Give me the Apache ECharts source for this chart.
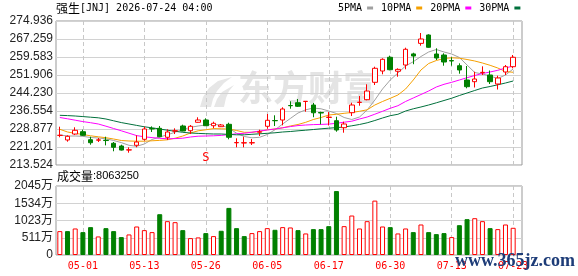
<!DOCTYPE html>
<html>
<head>
<meta charset="utf-8">
<script src="https://cdn.jsdelivr.net/npm/echarts@6/dist/echarts.min.js"></script>
<style>
html, body { margin: 0; padding: 0; background: #fff; }
#box { width: 578px; height: 276px; }
</style>
</head>
<body>
<div id="box"></div>
<script>
const dates = [
  '04-28', '04-29', '04-30', '05-01', '05-04', '05-05', '05-06', '05-07', '05-08', '05-11',
  '05-12', '05-13', '05-14', '05-15', '05-18', '05-19', '05-20', '05-21', '05-22', '05-26',
  '05-27', '05-28', '05-29', '06-01', '06-02', '06-03', '06-04', '06-05', '06-08', '06-09',
  '06-10', '06-11', '06-12', '06-15', '06-16', '06-17', '06-18', '06-22', '06-23', '06-24',
  '06-25', '06-26', '06-29', '06-30', '07-01', '07-02', '07-06', '07-07', '07-08', '07-09',
  '07-10', '07-13', '07-14', '07-15', '07-16', '07-17', '07-20', '07-21', '07-22', '07-23'
];

// [open, close, low, high]
const kData = [
  [226.15, 226.19, 225.34, 229.86], [224.19, 225.76, 223.46, 226.19], [226.73, 228.32, 226.32, 229.60],
  [227.72, 226.19, 225.89, 228.58], [224.31, 223.03, 222.18, 225.59], [224.10, 224.25, 223.33, 225.04],
  [224.10, 223.95, 221.90, 225.59], [222.78, 221.07, 219.37, 223.33], [221.63, 219.90, 219.70, 222.18],
  [219.92, 220.00, 218.77, 221.07], [221.93, 223.33, 221.07, 226.19], [224.48, 228.88, 223.89, 229.86],
  [229.10, 228.90, 227.60, 230.00], [229.17, 225.59, 225.34, 230.16], [225.34, 227.60, 224.19, 228.75],
  [228.00, 228.15, 226.73, 229.17], [230.16, 228.02, 227.90, 230.71], [228.15, 230.03, 226.74, 230.58],
  [231.73, 232.71, 231.56, 233.87], [232.71, 230.28, 230.16, 233.44], [230.28, 231.31, 229.17, 231.99],
  [229.86, 230.58, 229.73, 231.01], [230.88, 225.34, 224.48, 231.56], [223.00, 223.10, 221.07, 224.91],
  [222.90, 223.03, 221.07, 225.59], [222.95, 223.05, 222.05, 224.61], [227.50, 227.70, 225.89, 228.58],
  [230.03, 232.59, 229.00, 235.27], [232.50, 232.40, 230.16, 234.72], [232.71, 237.40, 230.45, 238.13],
  [238.90, 238.80, 237.53, 240.69], [240.09, 238.56, 238.26, 241.67], [240.60, 240.70, 236.25, 240.75],
  [239.10, 235.80, 233.90, 240.00], [235.90, 235.70, 230.88, 236.25], [233.80, 233.95, 230.40, 236.10],
  [232.42, 228.45, 227.72, 234.12], [229.43, 231.01, 227.30, 231.99], [235.83, 239.11, 234.42, 240.09],
  [240.20, 240.30, 238.81, 242.95], [241.37, 245.08, 241.12, 247.94], [248.79, 254.76, 247.64, 255.45],
  [253.61, 258.60, 252.20, 259.03], [259.46, 254.17, 253.91, 260.14], [253.50, 254.30, 251.17, 254.76],
  [256.17, 262.87, 254.34, 263.55], [260.90, 260.00, 256.50, 261.40], [265.40, 267.26, 264.40, 269.82],
  [268.97, 263.72, 263.55, 269.26], [260.86, 259.16, 258.30, 263.29], [260.43, 257.45, 255.87, 261.16],
  [258.05, 257.90, 255.87, 259.46], [255.87, 254.04, 252.46, 256.89], [249.77, 246.92, 246.23, 255.75],
  [249.05, 250.20, 246.58, 253.31], [252.90, 253.05, 251.90, 255.60], [251.91, 249.05, 248.07, 253.83],
  [248.07, 250.63, 245.72, 251.61], [253.19, 255.45, 251.90, 256.17], [255.45, 259.46, 254.76, 260.43]
];

const ma5 = [
  226.32, 225.89, 225.89, 225.76, 225.25, 225.04, 224.70, 223.97, 223.08, 221.93,
  221.50, 222.48, 224.40, 225.47, 226.40, 227.51, 228.66, 229.60, 230.16, 230.58,
  230.92, 230.46, 229.22, 227.09, 225.68, 225.12, 225.34, 226.53, 228.54, 231.01,
  233.36, 235.70, 237.07, 237.83, 237.49, 236.55, 235.49, 233.78, 232.93, 233.99,
  236.98, 241.25, 245.94, 249.77, 252.76, 255.75, 257.58, 259.80, 261.72, 262.78,
  261.72, 260.86, 259.37, 256.17, 252.97, 252.33, 251.48, 250.41, 251.91, 254.47
];
const ma10 = [
  228.75, 227.60, 227.00, 226.53, 225.98, 225.55, 225.17, 224.61, 223.97, 223.76,
  223.67, 223.67, 223.85, 224.02, 224.27, 224.95, 225.89, 227.17, 228.11, 228.54,
  229.05, 228.96, 228.88, 228.24, 227.47, 227.47, 227.81, 228.54, 228.88, 229.39,
  230.16, 230.80, 231.73, 232.93, 233.78, 234.85, 235.15, 235.57, 235.91, 236.43,
  237.07, 239.11, 240.61, 241.97, 243.38, 245.94, 249.77, 254.04, 256.81, 258.09,
  258.94, 259.24, 259.07, 258.52, 257.88, 257.02, 256.04, 254.89, 253.40, 253.06
];
const ma20 = [
  233.78, 233.23, 232.63, 232.03, 231.56, 231.01, 230.07, 229.09, 228.11, 227.09,
  226.06, 225.55, 225.21, 224.91, 224.70, 224.78, 224.95, 225.47, 225.81, 225.89,
  225.98, 226.15, 226.49, 226.83, 227.04, 227.51, 228.02, 228.45, 228.88, 229.39,
  229.90, 230.33, 230.58, 230.75, 230.84, 230.97, 231.31, 231.78, 232.20, 233.14,
  233.99, 235.19, 236.43, 237.71, 238.81, 240.61, 242.10, 243.59, 245.08, 246.79,
  247.94, 248.79, 249.77, 250.76, 251.69, 252.55, 253.19, 253.91, 254.89, 255.75
];
const ma30 = [
  234.72, 234.59, 234.42, 234.17, 233.91, 233.65, 233.14, 232.37, 231.61, 231.01,
  230.41, 229.82, 229.39, 228.88, 228.37, 227.90, 227.47, 227.17, 227.00, 226.87,
  226.75, 226.75, 226.57, 226.40, 226.40, 226.62, 226.83, 227.04, 227.26, 227.60,
  227.81, 228.11, 228.37, 228.66, 228.96, 229.22, 229.47, 229.73, 230.24, 230.80,
  231.52, 232.50, 233.57, 234.55, 235.15, 236.55, 237.49, 238.26, 239.11, 240.05,
  241.03, 242.01, 243.16, 244.23, 245.30, 246.36, 247.00, 247.73, 248.49, 249.35
];

// volume, unit: 万
const volumes = [
  708, 708, 786, 678, 826, 550, 796, 708, 531, 609,
  845, 737, 678, 1209, 1003, 973, 737, 501, 521, 649,
  560, 718, 1396, 796, 560, 649, 708, 796, 747, 826,
  816, 737, 639, 767, 767, 855, 1895, 855, 1170, 786,
  1003, 1612, 845, 826, 639, 786, 678, 904, 678, 619,
  649, 531, 884, 1062, 1091, 1003, 796, 767, 904, 806.325
];

const priceLabels = ['213.524', '221.201', '228.877', '236.554', '244.230', '251.906', '259.583', '267.259', '274.936'];
const volLabels = ['0', '511万', '1023万', '1534万', '2045万'];
const priceMin = 213.524, priceMax = 274.936;
const volMax = 2045;

const UP = '#ff0000';
const DOWN = '#008000';
const labelFont = "'Liberation Sans', 'Noto Sans CJK SC', sans-serif";
const monoFont = "'DejaVu Sans Mono', monospace";

const priceStep = (priceMax - priceMin) / 8;
const volStep = volMax / 4;

const showIdx = (i) => i % 8 === 3;

const volItems = volumes.map((v, i) => {
  const prev = i === 0 ? kData[0][0] : kData[i - 1][1];
  const up = kData[i][1] >= prev;
  return {
    value: v,
    itemStyle: up
      ? { color: '#fff', borderColor: UP, borderWidth: 1 }
      : { color: DOWN, borderColor: DOWN, borderWidth: 1 },
  };
});

const chart = echarts.init(document.getElementById('box'));

const maLine = (name, data, color) => ({
  name: name,
  type: 'line',
  xAxisIndex: 1,
  yAxisIndex: 1,
  data: data,
  symbol: 'none',
  smooth: false,
  lineStyle: { width: 1, color: color },
  itemStyle: { color: color },
  z: 3,
});

const option = {
  animation: false,
  title: [
    {
      left: 56, top: 2, padding: 0,
      text: '{a|强生}{b|[JNJ] 2026-07-24 04:00}',
      textStyle: {
        fontWeight: 'normal',
        rich: {
          a: { fontFamily: 'Noto Sans CJK SC', fontSize: 12, fontWeight: 'normal', color: '#000' },
          b: { fontFamily: monoFont, fontSize: 10, fontWeight: 'normal', color: '#000' },
        },
      },
    },
    {
      left: 57, top: 170, padding: 0,
      text: '{a|成交量}{b|:' + Math.round(volumes[volumes.length - 1] * 10000) + '}',
      textStyle: {
        fontWeight: 'normal',
        rich: {
          a: { fontFamily: 'Noto Sans CJK SC', fontSize: 12, fontWeight: 'normal', color: '#000' },
          b: { fontFamily: 'Liberation Sans', fontSize: 11, fontWeight: 'normal', color: '#000' },
        },
      },
    },
  ],
  legend: {
    left: 338, top: 3, padding: 0,
    align: 'right',
    icon: 'rect',
    itemWidth: 6, itemHeight: 3,
    itemGap: 8,
    selectedMode: false,
    textStyle: { fontFamily: monoFont, fontSize: 10, color: '#000', padding: [0, 0, 0, 0] },
    data: ['5PMA', '10PMA', '20PMA', '30PMA'],
  },
  grid: [
    { left: 56, top: 21, width: 466, height: 144, show: true, borderColor: '#999', borderWidth: 1, backgroundColor: 'transparent' },
    { left: 56, top: 21, width: 461, height: 144 },
    { left: 56, top: 186, width: 466, height: 69, show: true, borderColor: '#999', borderWidth: 1, backgroundColor: 'transparent' },
    { left: 56, top: 186, width: 461, height: 69 },
  ],
  xAxis: [
    { gridIndex: 0, type: 'value', min: 0, max: 1, show: false },
    {
      gridIndex: 1, type: 'category', data: dates, boundaryGap: true,
      axisLine: { show: false }, axisTick: { show: false }, axisLabel: { show: false },
      splitLine: { show: true, interval: showIdx, alignWithLabel: true, lineStyle: { color: '#c8c8c8', type: [4, 3] } },
    },
    { gridIndex: 2, type: 'value', min: 0, max: 1, show: false },
    {
      gridIndex: 3, type: 'category', data: dates, boundaryGap: true,
      axisLine: { show: false }, axisTick: { show: false },
      axisLabel: { interval: showIdx, color: '#ff0000', fontFamily: monoFont, fontSize: 10, margin: 6 },
      splitLine: { show: true, interval: showIdx, alignWithLabel: true, lineStyle: { color: '#c8c8c8', type: [4, 3] } },
    },
  ],
  yAxis: [
    {
      gridIndex: 0, type: 'value', min: priceMin, max: priceMax, interval: priceStep,
      axisLine: { show: false }, axisTick: { show: false },
      splitLine: { lineStyle: { color: '#d2d2d2' } },
      axisLabel: {
        margin: 3, color: '#222', fontFamily: labelFont, fontSize: 12,
        formatter: (v) => priceLabels[Math.round((v - priceMin) / priceStep)],
      },
    },
    { gridIndex: 1, type: 'value', min: priceMin, max: priceMax, show: false, splitLine: { show: false } },
    {
      gridIndex: 2, type: 'value', min: 0, max: volMax, interval: volStep,
      axisLine: { show: false }, axisTick: { show: false },
      splitLine: { lineStyle: { color: '#d2d2d2' } },
      axisLabel: {
        margin: 3, color: '#222', fontFamily: labelFont, fontSize: 12,
        formatter: (v) => volLabels[Math.round(v / volStep)],
      },
    },
    { gridIndex: 3, type: 'value', min: 0, max: volMax, show: false, splitLine: { show: false } },
  ],
  graphic: [
    // watermark logo, rough swoosh
    {
      type: 'polygon', z: 0, silent: true,
      shape: { points: [[200, 107], [203, 97], [209, 88], [218, 81], [232, 77], [224, 83], [217, 91], [213, 99], [211, 107]] },
      style: { fill: '#e6e6e6' },
    },
    {
      type: 'polygon', z: 0, silent: true,
      shape: { points: [[214, 107], [217, 99], [222, 92], [234, 85], [229, 91], [226, 98], [224, 107]] },
      style: { fill: '#e6e6e6' },
    },
    {
      type: 'text', left: 238, top: 70, z: 0, silent: true,
      style: { text: '东方财富', fill: '#e4e4e4', font: "bold 35px 'Noto Sans CJK SC'" },
    },
    {
      type: 'text', left: 455, top: 252, z: 100, silent: true,
      style: { text: 'www.365jz.com', fill: '#1d3c78', font: "bold 18px 'Liberation Serif'" },
    },
  ],
  series: [
    {
      name: 'K',
      type: 'candlestick',
      xAxisIndex: 1,
      yAxisIndex: 1,
      data: kData,
      barWidth: 5,
      itemStyle: {
        color: '#fff',
        color0: DOWN,
        borderColor: UP,
        borderColor0: DOWN,
        borderWidth: 1,
      },
      markPoint: {
        symbol: 'rect',
        symbolSize: 1,
        itemStyle: { color: 'transparent' },
        label: { show: true, position: 'inside', color: UP, fontFamily: monoFont, fontSize: 12, formatter: 'S' },
        data: [{ coord: ['05-26', 216.4] }],
      },
      z: 4,
    },
    maLine('5PMA', ma5, '#a0a0a0'),
    maLine('10PMA', ma10, '#f5a000'),
    maLine('20PMA', ma20, '#ff00ff'),
    maLine('30PMA', ma30, '#00703c'),
    {
      name: 'VOL',
      type: 'bar',
      xAxisIndex: 3,
      yAxisIndex: 3,
      data: volItems,
      barWidth: 5,
    },
  ],
};

chart.setOption(option);
</script>
</body>
</html>
